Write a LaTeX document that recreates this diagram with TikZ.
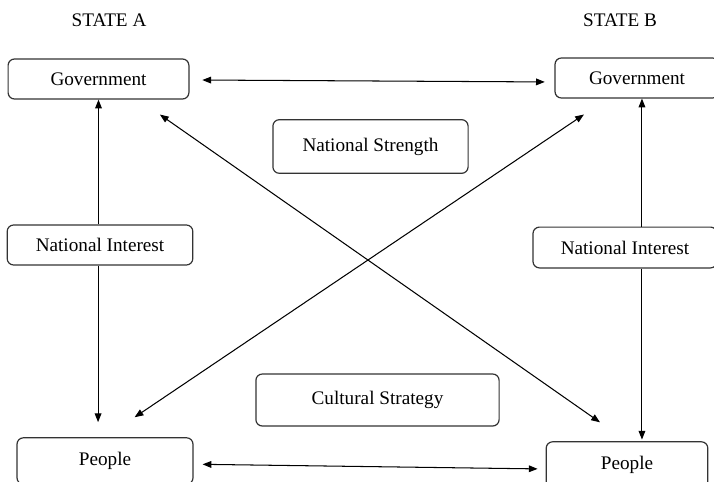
\documentclass[tikz,border=0pt]{standalone}
\usepackage{fontspec}
\setmainfont{Liberation Serif}
\usetikzlibrary{arrows.meta}

\begin{document}
\begin{tikzpicture}[
		x = 0.625pt, y = -0.625pt, % one unit = one pixel of the sketch
		> = {Triangle[length=5.5pt,width=4.2pt]}, % arrow head style
		line width=0.65pt, % line style
		font=\fontsize{12}{14}\selectfont,
		box/.style = {draw=black!80, line width=0.75pt, rounded corners=4pt, inner sep=0pt}
		]
		
		\clip (0,0) rectangle (714,481);
		
		\node (sa) at (109,20) {STATE A};
		\node (sb) at (620,20) {STATE B};
		
		\node[box, minimum width=113pt, minimum height=25pt] (gA) at (98.5,79) {Government};
		\node[box, minimum width=102.5pt, minimum height=25pt] (gB) at (637,78) {Government};
		\node[box, minimum width=122pt, minimum height=33.5pt] (ns) at (370.5,146.5) {National Strength};
		\node[box, minimum width=116pt, minimum height=25pt] (niA) at (100,245) {National Interest};
		\node[box, minimum width=115pt, minimum height=25.5pt] (niB) at (625,247.5) {National Interest};
		\node[box, minimum width=152pt, minimum height=32.5pt] (cs) at (377.5,400) {Cultural Strategy};
		\node[box, minimum width=110pt, minimum height=29pt] (pA) at (105,461) {People};
		\node[box, minimum width=101pt, minimum height=29pt] (pB) at (627,465) {People};
		
		\coordinate (niAx) at ([xshift=-1.2pt]niA.center);
		\coordinate (niBx) at ([xshift=10.6pt]niB.center);
		
		\path[<->] 	
		([yshift=-0.6pt]gA.east) edge [shorten <=8pt, shorten >=6pt] ([yshift=-2.5pt]gB.west)
		([yshift=-2pt]pA.east) edge [shorten <=5.6pt, shorten >=5pt] ([yshift=-2.5pt]pB.west)
		([xshift=25pt]gA.south) edge [shorten <=16.3pt, shorten >=20.6pt] (pB.north)
		(pA.north) edge [shorten <=22.3pt, shorten >=17.8pt] ([xshift=-18.4pt]gB.south);
		
		\path[->] 	
		(gA.south |- niA.north) edge [] (gA.south)
		(niAx |- niA.south) edge [shorten >=9.4pt] (niAx |- pA.north)
		(niBx |- niB.north) edge [] (niBx |- gB.south)
		(niBx |- niB.south) edge [shorten >=1pt] (niBx |- pB.north);
		
	\end{tikzpicture}
\end{document}
